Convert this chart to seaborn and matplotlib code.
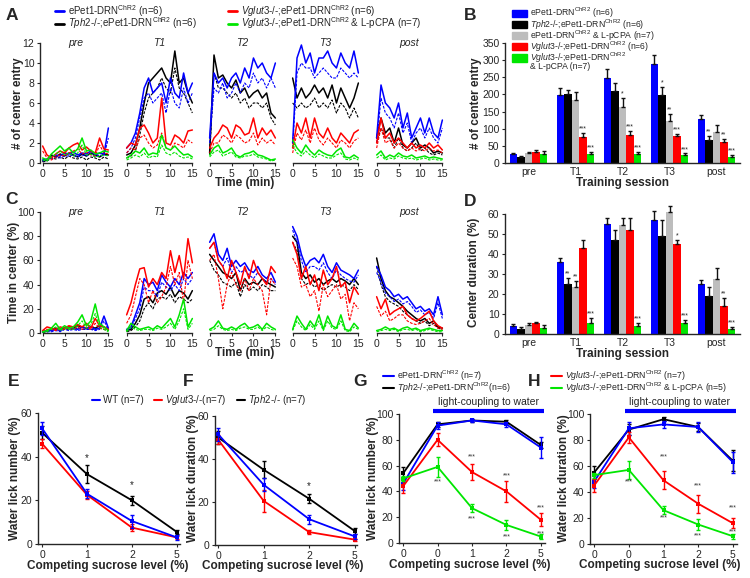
import numpy as np
import pandas as pd
import seaborn as sns
import matplotlib.pyplot as plt
import matplotlib.transforms as mtrans
from matplotlib.lines import Line2D
from matplotlib.patches import Patch, Rectangle

sns.set_style("ticks")
plt.rcParams['font.family'] = ['Liberation Sans', 'DejaVu Sans']
plt.rcParams['mathtext.fontset'] = 'custom'
plt.rcParams['mathtext.rm'] = 'Liberation Sans'
plt.rcParams['mathtext.it'] = 'Liberation Sans:italic'
plt.rcParams['mathtext.bf'] = 'Liberation Sans:bold'

# ---------------- data ----------------
sessions = ["pre", "T1", "T2", "T3", "post"]
minutes = list(range(16))

# A: number of center entries per minute (solid = mean, dashed = lower trace)
ent_blue = [[0.3,0.4,0.6,0.8,0.7,1.0,0.9,1.1,0.8,1.0,0.9,1.2,0.8,1.0,0.9,3.5],
            [1.5,2.0,3.0,5.0,7.5,8.5,7.0,7.5,8.0,6.0,8.5,7.0,6.5,9.0,7.0,8.0],
            [2.5,9.0,8.0,8.5,7.5,8.5,9.0,8.0,9.5,8.5,10.5,9.5,10.0,9.0,8.5,10.0],
            [2.0,10.5,11.8,10.0,11.0,9.0,10.5,10.5,11.2,10.0,9.5,11.0,10.0,9.5,11.2,9.0],
            [2.5,7.8,6.0,5.5,4.5,6.0,3.5,5.0,2.5,3.5,4.5,3.0,4.5,3.0,2.5,4.3]]
ent_blue_d = [[0.2,0.3,0.4,0.6,0.5,0.7,0.7,0.8,0.6,0.8,0.7,0.9,0.6,0.8,0.7,2.5],
              [1.0,1.5,2.5,4.5,6.5,7.0,6.0,6.5,7.0,5.0,7.5,6.0,5.5,7.5,6.0,7.0],
              [2.0,7.5,7.0,8.0,6.5,7.0,8.0,7.0,8.0,7.5,9.0,8.0,8.5,7.5,8.5,7.5],
              [1.5,9.0,10.0,9.5,9.5,8.5,9.0,9.5,9.0,8.5,8.5,9.5,9.0,8.5,9.0,8.5],
              [2.0,6.5,5.0,4.5,3.5,5.0,3.0,4.0,2.0,3.0,3.5,2.5,3.5,2.5,2.0,3.5]]
ent_black = [[0.2,0.3,0.8,0.6,0.9,0.7,1.0,0.8,0.6,0.9,0.7,1.0,0.8,0.6,0.9,0.8],
             [0.8,1.0,1.8,3.5,6.0,8.0,8.5,9.0,9.5,8.5,8.0,11.2,8.0,8.5,7.0,6.0],
             [1.0,10.8,8.5,8.8,8.0,7.5,8.3,7.0,7.5,6.5,7.0,7.3,6.5,7.0,5.0,4.5],
             [8.5,6.5,7.5,6.5,7.0,7.8,7.0,7.5,6.5,7.8,6.0,7.5,6.5,5.5,6.5,8.0],
             [2.5,4.5,3.0,3.5,2.0,3.5,1.8,1.5,2.0,2.5,1.5,1.8,1.5,1.0,1.2,1.0]]
ent_black_d = [[0.1,0.2,0.5,0.4,0.6,0.4,0.7,0.5,0.4,0.6,0.3,0.6,0.5,0.3,0.6,0.4],
               [0.5,0.7,1.2,2.8,5.0,6.5,7.0,7.5,8.5,7.5,7.0,9.5,7.5,7.0,6.0,5.0],
               [0.8,9.0,7.5,7.5,7.0,6.5,7.0,6.0,6.5,5.5,6.0,6.0,5.5,6.0,4.5,3.8],
               [6.0,5.5,6.0,5.5,5.8,6.5,5.5,6.0,5.5,6.3,5.0,6.0,5.5,4.5,5.5,4.5],
               [2.0,3.5,2.5,2.5,1.5,2.5,1.5,1.2,1.5,2.0,1.2,1.5,1.0,0.8,1.0,0.8]]
ent_red = [[1.7,0.8,0.5,0.9,1.2,1.0,1.5,1.8,2.0,1.3,1.6,1.2,1.0,2.5,1.4,1.3],
           [1.5,2.0,1.8,3.5,3.8,3.0,2.0,2.5,6.5,2.0,1.8,2.8,2.5,2.0,3.2,3.3],
           [1.5,2.5,3.0,3.8,3.5,2.5,3.8,3.5,2.8,3.0,4.5,2.5,3.5,2.8,3.3,2.5],
           [1.5,4.0,3.0,4.5,2.5,4.5,3.0,2.5,3.5,2.5,2.0,3.0,2.5,2.0,3.0,3.3],
           [2.0,4.5,2.5,3.0,2.0,2.5,2.0,1.5,2.0,1.5,1.8,1.5,2.0,1.5,1.8,1.3]]
ent_red_d = [[1.2,0.5,0.3,0.6,0.8,0.7,1.0,1.2,1.4,0.9,1.1,0.8,0.7,1.8,1.0,0.9],
             [1.0,1.5,1.3,2.5,2.8,2.0,1.5,1.8,3.0,1.5,1.3,2.0,1.8,1.5,2.3,2.0],
             [1.0,2.0,2.0,2.8,2.5,2.0,2.8,2.5,2.0,2.2,3.0,1.8,2.5,2.0,2.3,1.8],
             [1.0,3.0,2.3,3.3,2.0,3.5,2.3,1.8,2.5,2.0,1.5,2.3,2.0,1.5,2.2,2.5],
             [1.5,3.5,2.0,2.3,1.5,2.0,1.5,1.2,1.5,1.2,1.4,1.2,1.5,1.2,1.3,1.0]]
ent_green = [[0.5,0.3,0.9,1.3,1.7,1.2,1.5,1.0,1.4,2.5,1.2,1.3,0.9,1.0,1.2,1.1],
             [0.5,0.8,1.2,1.0,1.5,0.8,1.0,0.9,2.8,1.5,1.3,1.7,1.2,0.8,0.9,0.6],
             [0.8,1.5,1.8,1.0,1.2,1.5,0.8,0.6,0.9,1.0,1.2,0.8,0.7,0.5,0.3,0.4],
             [2.3,1.5,1.0,1.8,1.2,0.8,1.3,1.0,0.8,0.7,1.2,1.5,0.6,0.5,0.8,0.5],
             [0.8,1.2,0.5,0.8,0.6,1.0,0.7,0.6,0.8,0.5,0.6,0.7,0.5,0.6,0.5,0.4]]
ent_green_d = [[0.3,0.2,0.6,0.9,1.2,0.8,1.0,0.7,1.0,1.8,0.8,0.9,0.6,0.7,0.8,0.7],
               [0.3,0.5,0.8,0.6,1.0,0.5,0.7,0.6,1.8,1.0,0.8,1.1,0.7,0.5,0.6,0.4],
               [0.6,1.1,1.3,0.7,0.9,1.1,0.6,0.5,0.7,0.7,0.9,0.6,0.5,0.4,0.2,0.3],
               [1.8,1.0,0.7,1.2,0.8,0.5,0.9,0.7,0.5,0.5,0.8,1.0,0.4,0.3,0.5,0.3],
               [0.5,0.8,0.3,0.5,0.4,0.7,0.5,0.4,0.5,0.3,0.4,0.5,0.3,0.4,0.3,0.3]]

# C: time in center (%) per minute
tim_blue = [[1,2,2,3,2,4,3,4,3,5,4,5,3,4,14,4],
            [3,5,15,25,45,40,42,35,48,42,38,45,40,50,45,50],
            [75,82,65,60,70,55,60,55,58,52,50,55,48,45,50,42],
            [88,80,65,55,60,62,58,65,55,50,58,52,50,48,45,52],
            [55,48,38,35,30,32,28,30,25,20,22,18,20,15,30,15]]
tim_blue_d = [[1,1,1,2,1,3,2,3,2,3,3,3,2,3,10,3],
              [2,4,12,20,38,35,35,30,42,38,35,40,35,45,40,45],
              [70,75,60,55,62,50,55,50,52,48,45,50,45,42,45,40],
              [85,75,60,50,55,55,52,58,50,45,52,48,45,43,42,48],
              [50,42,33,30,26,28,24,26,22,17,19,15,17,12,25,12]]
tim_black = [[1,2,3,4,3,4,5,4,6,5,4,5,4,6,5,3],
             [2,3,8,15,28,30,25,33,35,32,38,30,35,33,28,35],
             [65,60,55,50,48,45,50,35,45,40,42,40,45,42,40,38],
             [80,75,50,45,48,42,45,40,43,45,42,45,43,40,45,40],
             [62,45,35,30,28,25,22,18,15,12,10,12,8,10,5,4]]
tim_black_d = [[0.5,1,2,3,2,3,3,3,4,3,3,3,3,4,3,2],
               [1,2,5,10,20,25,20,28,30,28,32,25,30,28,25,28],
               [60,52,48,42,40,38,42,30,40,35,38,35,40,38,35,35],
               [75,68,45,40,42,38,40,35,38,40,38,40,38,35,40,36],
               [55,40,30,26,24,22,18,15,12,10,8,10,6,8,4,3]]
tim_red = [[2,5,4,3,5,4,6,5,7,5,8,4,12,6,5,3],
           [15,25,40,53,54,38,45,40,50,45,68,50,64,45,78,58],
           [70,75,60,55,45,60,50,40,55,45,60,50,45,40,55,50],
           [75,65,45,55,40,48,35,52,40,45,55,38,42,25,38,32],
           [30,20,28,15,18,20,22,15,12,10,12,15,18,10,6,4]]
tim_red_d = [[1,3,3,2,3,3,4,3,5,3,5,3,8,4,3,2],
             [8,15,30,45,40,25,35,25,30,38,55,40,50,25,60,45],
             [60,65,45,20,40,50,40,35,45,35,45,40,35,15,45,40],
             [62,55,38,40,30,35,18,40,30,35,40,28,32,10,25,20],
             [22,14,18,10,12,15,15,10,8,7,8,10,12,7,4,3]]
tim_green = [[1,2,4,8,3,6,4,5,9,15,6,10,24,8,5,2],
             [2,8,5,3,4,5,3,6,4,8,12,5,15,28,5,12],
             [3,5,10,4,3,5,3,6,8,4,5,7,3,8,5,3],
             [3,14,8,3,10,5,15,3,14,6,4,15,3,2,8,4],
             [2,3,5,3,4,2,4,5,3,4,2,3,4,3,2,2]]
tim_green_d = [[0.5,1,3,5,2,4,3,3,6,10,4,7,16,5,3,1],
               [1,5,3,2,3,3,2,4,3,5,8,3,10,20,3,8],
               [2,3,6,3,2,3,2,4,5,3,3,5,2,5,3,2],
               [2,10,5,2,7,3,10,2,10,4,3,10,2,1,5,3],
               [1,2,3,2,3,1,3,3,2,3,1,2,3,2,1,1]]

# B: total center entries (mean, sem, significance)
bar_groups = ["ePet1", "Tph2", "ePet1+pCPA", "Vglut3", "Vglut3+pCPA"]
b_ePet1 = [25, 198, 248, 288, 127]
b_ePet1_e = [5, 22, 27, 27, 12]
b_tph2 = [18, 200, 210, 198, 68]
b_tph2_e = [3, 14, 22, 25, 12]
b_pcpa = [28, 183, 163, 122, 90]
b_pcpa_e = [4, 25, 27, 22, 20]
b_vglut = [33, 75, 83, 80, 62]
b_vglut_e = [6, 12, 11, 6, 9]
b_vpcpa = [27, 25, 25, 22, 18]
b_vpcpa_e = [7, 8, 7, 6, 6]
b_stars = [["", "", "", "", ""], ["", "", "", "*", "**"], ["", "", "*", "**", ""],
           ["", "***", "***", "***", "**"], ["", "***", "***", "***", "***"]]

# D: center duration (%)
d_ePet1 = [4, 36, 55, 57, 25]
d_ePet1_e = [1, 2, 3, 4.5, 2]
d_tph2 = [2.5, 25, 47, 49, 19]
d_tph2_e = [1, 3, 5, 8, 4.5]
d_pcpa = [4.5, 23.5, 54.5, 61, 27.5]
d_pcpa_e = [1, 3, 3.5, 3, 5.5]
d_vglut = [5.5, 43, 52, 45, 14]
d_vglut_e = [0.5, 4, 6, 2, 4]
d_vpcpa = [3, 5.5, 4, 5.5, 2.5]
d_vpcpa_e = [1.5, 2.5, 1.5, 1.5, 1]
d_stars = [["", "", "", "", ""], ["", "**", "", "", ""], ["", "**", "", "", ""],
           ["", "", "", "*", "**"], ["", "***", "***", "***", "***"]]

# E/F: sucrose competition, knockouts
suc_levels = ["0", "1", "2", "5"]
e_wt = [53, 23, 10.5, 3]
e_wt_e = [3, 2, 3, 1]
e_vglut = [46, 22.5, 7.5, 3]
e_vglut_e = [2, 2, 1.5, 0.5]
e_tph2 = [51, 32, 20, 5.5]
e_tph2_e = [3, 4, 2, 1]
f_wt = [51.5, 28, 12, 4]
f_wt_e = [3, 3, 2, 1]
f_vglut = [49, 20.5, 6, 2.5]
f_vglut_e = [2, 5, 1, 0.5]
f_tph2 = [50, 35, 21.5, 6.5]
f_tph2_e = [3, 4, 2, 1.5]

# G/H: sucrose competition with light coupling
gh_levels = ["0", "0", "1", "2", "5"]
g_ePet1 = [46, 91, 95, 92, 74]
g_ePet1_e = [5, 3, 1.5, 2, 8]
g_tph2 = [54, 92, 95, 94, 76]
g_tph2_e = [5, 2, 1.5, 1.5, 2]
g_vglut = [44, 80, 55, 40, 18]
g_vglut_e = [5, 5, 6, 8, 5]
g_vpcpa = [50, 59, 27, 14, 5]
g_vpcpa_e = [2, 8, 3, 4, 2]
h_ePet1 = [48, 89, 92, 90, 63]
h_ePet1_e = [5, 5, 3, 4, 8]
h_tph2 = [55, 88, 96, 90, 64]
h_tph2_e = [5, 4, 1.5, 3, 8]
h_vglut = [45, 82, 49, 31, 16]
h_vglut_e = [5, 4, 7, 7, 4]
h_vpcpa = [53, 57, 26, 15, 6]
h_vpcpa_e = [2, 7, 3, 4, 2]
g_red_star_y = [None, None, 67, 52, 27]
g_green_star_y = [None, 47, 19, 5, 7]
h_red_star_y = [None, None, 67, 45, 28]
h_green_star_y = [None, 48, 20, 6, 9]

BLUE, BLACK, GRAY, RED, GREEN = "#0000ff", "#000000", "#bdbdbd", "#ff0000", "#00e600"

# ---------------- figure ----------------
W, H = 750, 578
fig = plt.figure(figsize=(7.5, 5.78), dpi=100)
LAB = dict(fontsize=8.5, weight="bold", ha="center", va="center")


def px(x0, y0, x1, y1):
    return fig.add_axes([x0 / W, 1 - y1 / H, (x1 - x0) / W, (y1 - y0) / H])


def style(ax, left=True):
    ax.tick_params(labelsize=7.5, length=2.5, width=0.8, pad=1.5)
    for s in ["top", "right"]:
        ax.spines[s].set_visible(False)
    ax.spines["left"].set_linewidth(1.0)
    ax.spines["bottom"].set_linewidth(1.0)
    if not left:
        ax.spines["left"].set_visible(False)
        ax.set_yticks([])
    ax.set_xlabel("")
    ax.set_ylabel("")


def ftext(x, y, s, **kw):
    fig.text(x / W, 1 - y / H, s, **kw)


def flegend(handles, labels, x, y, size, **kw):
    opts = dict(loc="upper left", frameon=False, fontsize=size, borderpad=0, borderaxespad=0,
                handletextpad=0.4)
    opts.update(kw)
    fig.legend(handles, labels, bbox_to_anchor=(x / W, 1 - y / H), **opts)


EPET = r"ePet1-DRN$^{\rm ChR2}$"
TPH = r"$\it{Tph2}$-/-;ePet1-DRN$^{\rm ChR2}$"
VGL = r"$\it{Vglut3}$-/-;ePet1-DRN$^{\rm ChR2}$"

# ---- A and C: session traces ----
sub_x0 = [40, 124, 207, 290, 374]


def traces(y0, y1, groups, ymax, yticks):
    for k, sname in enumerate(sessions):
        ax = px(sub_x0[k], y0, sub_x0[k] + 71, y1)
        for solid, dashed, col in groups:
            sns.lineplot(x=minutes, y=dashed[k], color=col, lw=0.8, dashes=False, ax=ax,
                         linestyle=(0, (2.5, 1.2)))
            sns.lineplot(x=minutes, y=solid[k], color=col, lw=1.1, ax=ax)
        ax.set_xlim(-0.6, 15.6)
        ax.set_ylim(0, ymax)
        ax.set_xticks([0, 5, 10, 15])
        ax.spines["bottom"].set_bounds(0, 15)
        style(ax, left=(k == 0))
        if k == 0:
            ax.set_yticks(yticks)
        ax.text(7.5, ymax, sname, ha="center", va="center", style="italic", fontsize=7.5)


ent_groups = [(ent_black, ent_black_d, BLACK), (ent_blue, ent_blue_d, BLUE),
              (ent_red, ent_red_d, RED), (ent_green, ent_green_d, GREEN)]
traces(43, 163, ent_groups, 12, range(0, 13, 2))
ftext(245, 183, "Time (min)", **LAB)
ftext(18, 103, "# of center entry", rotation=90, **LAB)

tim_groups = [(tim_black, tim_black_d, BLACK), (tim_blue, tim_blue_d, BLUE),
              (tim_red, tim_red_d, RED), (tim_green, tim_green_d, GREEN)]
traces(212, 333, tim_groups, 100, range(0, 101, 20))
ftext(245, 353, "Time (min)", **LAB)
ftext(14, 272, "Time in center (%)", rotation=90, **LAB)

flegend([Line2D([], [], color=BLUE, lw=2), Line2D([], [], color=BLACK, lw=2)],
        [EPET + " (n=6)", TPH + " (n=6)"], 55, 3, 7, handlelength=0.9, labelspacing=-0.33)
flegend([Line2D([], [], color=RED, lw=2), Line2D([], [], color=GREEN, lw=2)],
        [VGL + " (n=6)", VGL + " & L-pCPA (n=7)"], 228, 3, 7, handlelength=0.9,
        labelspacing=-0.33)

# ---- B and D: bars ----
bar_cols = [BLUE, BLACK, GRAY, RED, GREEN]


def bars(ax, vals, errs, stars, ymax, yticks):
    df = pd.DataFrame({"session": [s for g in bar_groups for s in sessions],
                       "group": [g for g in bar_groups for s in sessions],
                       "val": [v for vv in vals for v in vv]})
    sns.barplot(data=df, x="session", y="val", hue="group", hue_order=bar_groups,
                order=sessions, palette=bar_cols, saturation=1, errorbar=None, width=0.8,
                linewidth=0, legend=False, ax=ax)
    rects = [p for p in ax.patches if isinstance(p, Rectangle) and p.get_height() > 0]
    for bar in rects:
        bar.set_clip_on(False)
        xc = bar.get_x() + bar.get_width() / 2
        top = bar.get_height()
        si = int(round(xc))
        gi = int(round((xc - si + 0.4) / 0.16 - 0.5))
        err = errs[gi][si]
        ax.errorbar([xc], [top], yerr=[[0], [err]], fmt="none", ecolor="#111111",
                    elinewidth=1.0, capsize=1.6, capthick=1.0, clip_on=False)
        if stars[gi][si]:
            ax.text(xc, top + err + ymax * 0.003, stars[gi][si], ha="center",
                    va="bottom", fontsize=5, color="#222222")
    ax.set_ylim(0, ymax)
    ax.set_xlim(-0.5, 4.5)
    ax.set_yticks(yticks)
    style(ax)
    ax.tick_params(axis="x", length=0, pad=3)


axB = px(505, 43, 740, 163)
bars(axB, [b_ePet1, b_tph2, b_pcpa, b_vglut, b_vpcpa],
     [b_ePet1_e, b_tph2_e, b_pcpa_e, b_vglut_e, b_vpcpa_e], b_stars, 350, range(0, 351, 50))
ftext(622, 183, "Training session", **LAB)
ftext(476, 103, "# of center entry", rotation=90, **LAB)

axD = px(505, 214, 740, 334)
bars(axD, [d_ePet1, d_tph2, d_pcpa, d_vglut, d_vpcpa],
     [d_ePet1_e, d_tph2_e, d_pcpa_e, d_vglut_e, d_vpcpa_e], d_stars, 60, range(0, 61, 10))
ftext(622, 354, "Training session", **LAB)
ftext(474, 272, "Center duration (%)", rotation=90, **LAB)

# last entry wraps onto a second line: an empty handle carries the continuation
flegend([Patch(color=c) for c in bar_cols] + [Patch(alpha=0)],
        [EPET + " (n=6)", TPH + " (n=6)", EPET + " & L-pCPA (n=7)", VGL + " (n=6)", VGL,
         "& L-pCPA (n=7)"],
        512, 6, 6.2, handlelength=1.7, handleheight=0.9, labelspacing=-0.38)

# ---- E-H: sucrose competition ----


def sucrose(ax, series, ymax, yticks, labels):
    pos = list(range(len(labels)))
    for vals, errs, col in series:
        sns.lineplot(x=pos, y=vals, color=col, lw=1.3, marker="s", markersize=2.5,
                     markeredgewidth=0, ax=ax)
        ax.errorbar(pos, vals, yerr=errs, fmt="none", ecolor=col, elinewidth=1.0,
                    capsize=1.6, capthick=1.0, clip_on=False)
    ax.set_ylim(0, ymax)
    ax.set_yticks(yticks)
    ax.set_xticks(pos)
    ax.set_xticklabels(labels)
    style(ax)


axE = px(38, 413, 180, 544)
sucrose(axE, [(e_tph2, e_tph2_e, BLACK), (e_vglut, e_vglut_e, RED), (e_wt, e_wt_e, BLUE)],
        60, [0, 20, 40, 60], suc_levels)
axE.set_xlim(-0.09, 3.07)
for xi, yv in [(1, 37), (2, 24.5)]:
    axE.text(xi, yv, "*", ha="center", va="bottom", fontsize=7, color="#222222")
ftext(108, 566, "Competing sucrose level (%)", **LAB)
ftext(15, 478, "Water lick number (%)", rotation=90, **LAB)

axF = px(215, 416, 357, 545)
sucrose(axF, [(f_tph2, f_tph2_e, BLACK), (f_vglut, f_vglut_e, RED), (f_wt, f_wt_e, BLUE)],
        60, [0, 20, 40, 60], suc_levels)
axF.set_xlim(-0.07, 3.05)
axF.text(2, 25, "*", ha="center", va="bottom", fontsize=7, color="#222222")
ftext(283, 566, "Competing sucrose level (%)", **LAB)
ftext(193, 478, "Water lick duration (%)", rotation=90, **LAB)

flegend([Line2D([], [], color=c, lw=1.5) for c in (BLUE, RED, BLACK)],
        ["WT (n=7)", r"$\it{Vglut3}$-/-(n=7)", r"$\it{Tph2}$-/- (n=7)"], 92, 393, 7,
        ncol=3, handlelength=0.8, handletextpad=0.3, columnspacing=1.1)


def light_bar(ax, x0, x1, xt):
    tr = mtrans.blended_transform_factory(ax.transData, ax.transAxes)
    ax.plot([x0, x1], [1.02, 1.02], color=BLUE, lw=3, transform=tr, clip_on=False,
            solid_capstyle="butt")
    ax.text(xt, 1.09, "light-coupling to water", transform=tr, ha="center", va="center",
            fontsize=7.5)


def stars_at(ax, ys):
    for xi, yv in enumerate(ys):
        if yv is not None:
            ax.text(xi, yv, "***", ha="center", va="center", fontsize=5, color="#333333")


axG = px(399, 414, 545, 543)
sucrose(axG, [(g_tph2, g_tph2_e, BLACK), (g_ePet1, g_ePet1_e, BLUE), (g_vglut, g_vglut_e, RED),
              (g_vpcpa, g_vpcpa_e, GREEN)], 100, range(0, 101, 20), gh_levels)
axG.set_xlim(-0.12, 4.12)
light_bar(axG, 0.86, 4.08, 2.48)
stars_at(axG, g_red_star_y)
stars_at(axG, g_green_star_y)
ftext(470, 565, "Competing sucrose level (%)", **LAB)
ftext(373, 478, "Water lick number (%)", rotation=90, **LAB)

axH = px(590, 414, 737, 544)
sucrose(axH, [(h_tph2, h_tph2_e, BLACK), (h_ePet1, h_ePet1_e, BLUE), (h_vglut, h_vglut_e, RED),
              (h_vpcpa, h_vpcpa_e, GREEN)], 100, range(0, 101, 20), gh_levels)
axH.set_xlim(-0.12, 4.12)
light_bar(axH, 0.9, 4.1, 2.45)
stars_at(axH, h_red_star_y)
stars_at(axH, h_green_star_y)
ftext(660, 565, "Competing sucrose level (%)", **LAB)
ftext(564, 478, "Water lick duration (%)", rotation=90, **LAB)

flegend([Line2D([], [], color=BLUE, lw=1.5), Line2D([], [], color=BLACK, lw=1.5)],
        [EPET + " (n=7)", TPH + "(n=6)"], 383, 369, 6.3,
        handlelength=1.2, labelspacing=-0.33)
flegend([Line2D([], [], color=RED, lw=1.5), Line2D([], [], color=GREEN, lw=1.5)],
        [VGL + " (n=7)", VGL + " & L-pCPA (n=5)"], 551, 369, 6.3,
        handlelength=1.2, labelspacing=-0.33)

# panel letters
for lab, x, y in [("A", 12, 15), ("B", 470, 15), ("C", 12, 200), ("D", 470, 202),
                  ("E", 14, 382), ("F", 188, 382), ("G", 360, 382), ("H", 534, 382)]:
    ftext(x, y, lab, ha="center", va="center", fontsize=12.5, weight="bold")

fig.savefig("out.png", dpi=100)
